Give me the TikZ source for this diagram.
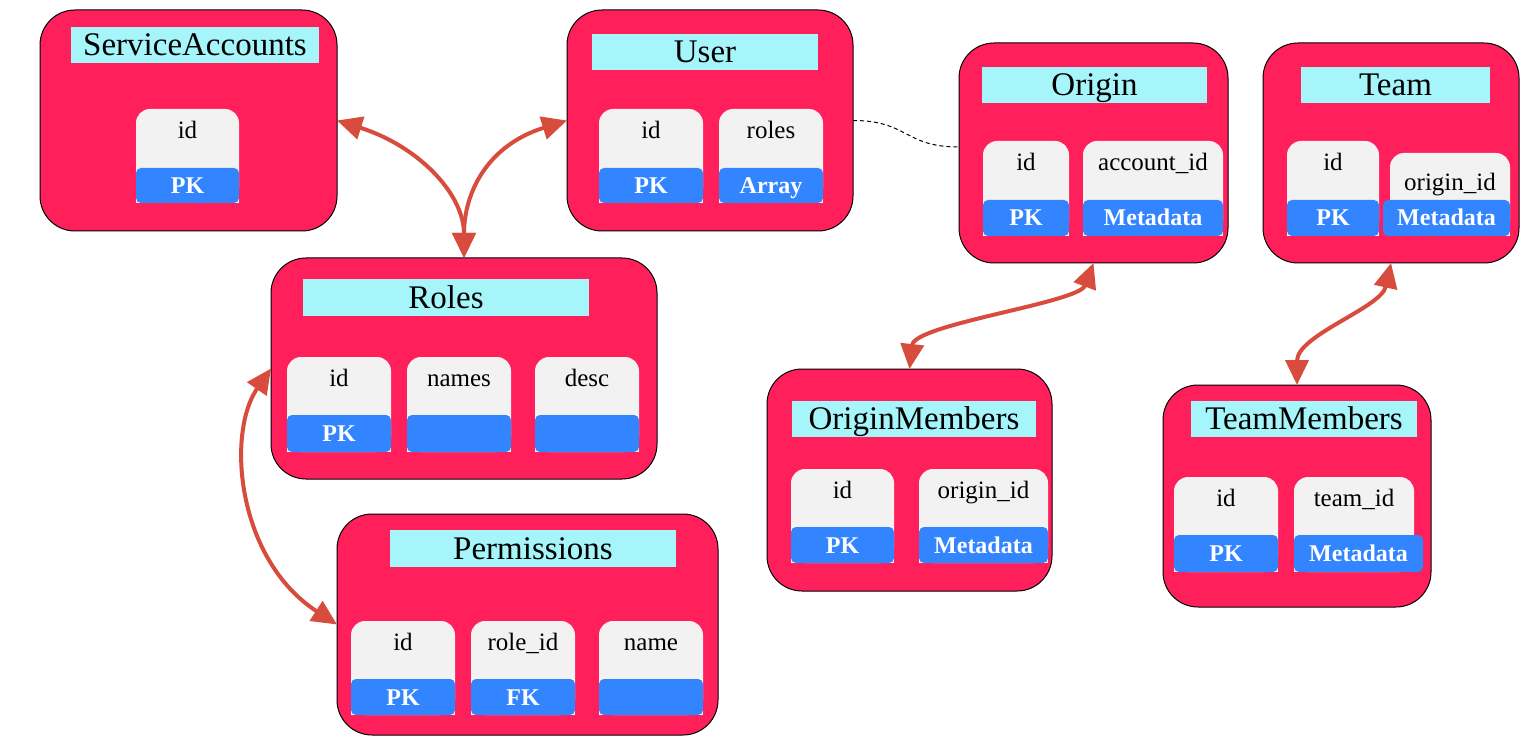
\documentclass[tikz,border=0pt]{standalone}
\usepackage{fontspec}
\setmainfont{Liberation Serif}
\usetikzlibrary{arrows.meta}
\definecolor{tblpink}{HTML}{FF1F5B}
\definecolor{ttlcyan}{HTML}{A6F5FA}
\definecolor{fldwhite}{HTML}{F2F2F2}
\definecolor{fldblue}{HTML}{3385FF}
\definecolor{arrred}{HTML}{D84C3E}
\newcommand{\tbl}[5]{\node[tblbox, minimum width={(#4-#2)*1pt}, minimum height={(#5-#3)*1pt}] (#1) at ({(#2+#4)/2},{(#3+#5)/2}) {};}
\newcommand{\ttl}[6]{\node[ttlbox, minimum width={(#4-#2)*1pt}, minimum height={(#5-#3)*1pt}] (#1) at ({(#2+#4)/2},{(#3+#5)/2}) {#6};}
% name, x1, x2, top, bluetop, bottom, labely, label, bluelabel
\newcommand{\fld}[9]{%
  \node[fw, minimum width={(#3-#2)*1pt}, minimum height={(#6-#4)*1pt}] (#1) at ({(#2+#3)/2},{(#4+#6)/2}) {};
  \fill[fldwhite] (#1.south west) rectangle (#1.east);
  \node[fb, minimum width={(#3-#2)*1pt}, minimum height={(#6-#5)*1pt}] (#1b) at ({(#2+#3)/2},{(#5+#6)/2}) {#9};
  \node[flabel] (#1l) at ({(#2+#3)/2},#7) {#8};}
\begin{document}
\begin{tikzpicture}[x=1pt,y=-1pt,
  tblbox/.style={draw=black, line width=1pt, fill=tblpink, rounded corners=35pt, inner sep=0pt, outer sep=0pt},
  ttlbox/.style={fill=ttlcyan, inner sep=0pt, outer sep=0pt, font=\fontsize{33}{36}\selectfont, text height=21.5pt, text depth=0pt},
  fw/.style={fill=fldwhite, rounded corners=14pt, inner sep=0pt, outer sep=0pt},
  fb/.style={fill=fldblue, rounded corners=5pt, inner sep=0pt, outer sep=0pt, text=white, font=\fontsize{24}{26}\selectfont\bfseries, text height=16pt, text depth=0pt},
  flabel/.style={inner sep=0pt, font=\fontsize{25}{28}\selectfont, text height=16.8pt, text depth=0pt},
  rel/.style={draw=arrred, line width=4pt, {Triangle[length=25pt,width=23pt]}-{Triangle[length=25pt,width=23pt]}},
  dashline/.style={draw=black, line width=1pt, dash pattern=on 4pt off 3pt}]
\useasboundingbox (0,0) rectangle (1531,751);
\fill[white] (0,0) rectangle (1531,751);

% ServiceAccounts
\tbl{sa}{40}{10}{337}{231}
\ttl{sat}{71}{27}{319}{63}{ServiceAccounts}
\fld{said}{136}{239}{109}{168}{203}{130.5}{id}{PK}

% User
\tbl{user}{567}{10}{853}{231}
\ttl{usert}{592}{34}{818}{70}{User}
\fld{uid}{599}{703}{109}{168}{203}{130.5}{id}{PK}
\fld{uroles}{719}{823}{109}{168}{203}{130.5}{roles}{Array}

% Roles
\tbl{roles}{271}{258}{657}{479}
\ttl{rolest}{303}{279}{589}{316}{Roles}
\fld{rid}{287}{391}{357}{415}{452}{378.5}{id}{PK}
\fld{rnames}{407}{511}{357}{415}{452}{378.5}{names}{}
\fld{rdesc}{535}{639}{357}{415}{452}{378.5}{desc}{}

% Permissions
\tbl{perm}{337}{514}{718}{735}
\ttl{permt}{390}{530}{676}{567}{Permissions}
\fld{pid}{351}{455}{621}{679}{715}{642.5}{id}{PK}
\fld{prole}{471}{575}{621}{679}{715}{642.5}{role\_id}{FK}
\fld{pname}{599}{703}{621}{679}{715}{642.5}{name}{}

% Origin
\tbl{origin}{959}{43}{1228}{263}
\ttl{origint}{982}{67}{1207}{103}{Origin}
\fld{oid}{983}{1069}{141}{200}{236}{162.5}{id}{PK}
\fld{oacc}{1083}{1223}{141}{200}{236}{162.5}{account\_id}{Metadata}

% Team
\tbl{team}{1263}{43}{1519}{263}
\ttl{teamt}{1301}{67}{1490}{103}{Team}
\fld{tid}{1287}{1379}{141}{200}{236}{162.5}{id}{PK}
\node[fw, minimum width=120pt, minimum height=83pt] (torig) at (1450,194.5) {};
\fill[fldwhite] (torig.south west) rectangle (torig.east);
\node[fb, minimum width=127pt, minimum height=36pt] (torigb) at (1446.5,218) {Metadata};
\node[flabel] (torigl) at (1450,182.5) {origin\_id};

% OriginMembers
\tbl{om}{767}{369}{1052}{591}
\ttl{omt}{792}{401}{1036}{437}{OriginMembers}
\fld{omid}{791}{894}{469}{527}{563}{490.5}{id}{PK}
\fld{omorig}{919}{1048}{469}{527}{563}{490.5}{origin\_id}{Metadata}

% TeamMembers
\tbl{tm}{1163}{385}{1431}{607}
\ttl{tmt}{1191}{401}{1417}{437}{TeamMembers}
\fld{tmid}{1174}{1278}{477}{535}{572}{498.5}{id}{PK}
\node[fw, minimum width=120pt, minimum height=95pt] (tmteam) at (1354,524.5) {};
\fill[fldwhite] (tmteam.south west) rectangle (tmteam.east);
\node[fb, minimum width=129pt, minimum height=37pt] (tmteamb) at (1358.5,553.5) {Metadata};
\node[flabel] (tmteaml) at (1354,498.5) {team\_id};

% connectors
\draw[dashline] (user.east) .. controls +(55,0) and +(-55,0) .. ([yshift=6pt]origin.west);
\draw[rel] (sa.east) .. controls +(80,25) and +(0,-65) .. (roles.north);
\draw[rel] (user.west) .. controls +(-80,25) and +(0,-65) .. (roles.north);
\draw[rel] (roles.west) .. controls +(-45,65) and +(-100,-65) .. (perm.west);
\draw[rel] (origin.south) .. controls +(-15,40) and +(5,-45) .. (om.north);
\draw[rel] (team.south) .. controls +(-10,45) and +(0,-50) .. (tm.north);
\end{tikzpicture}
\end{document}
